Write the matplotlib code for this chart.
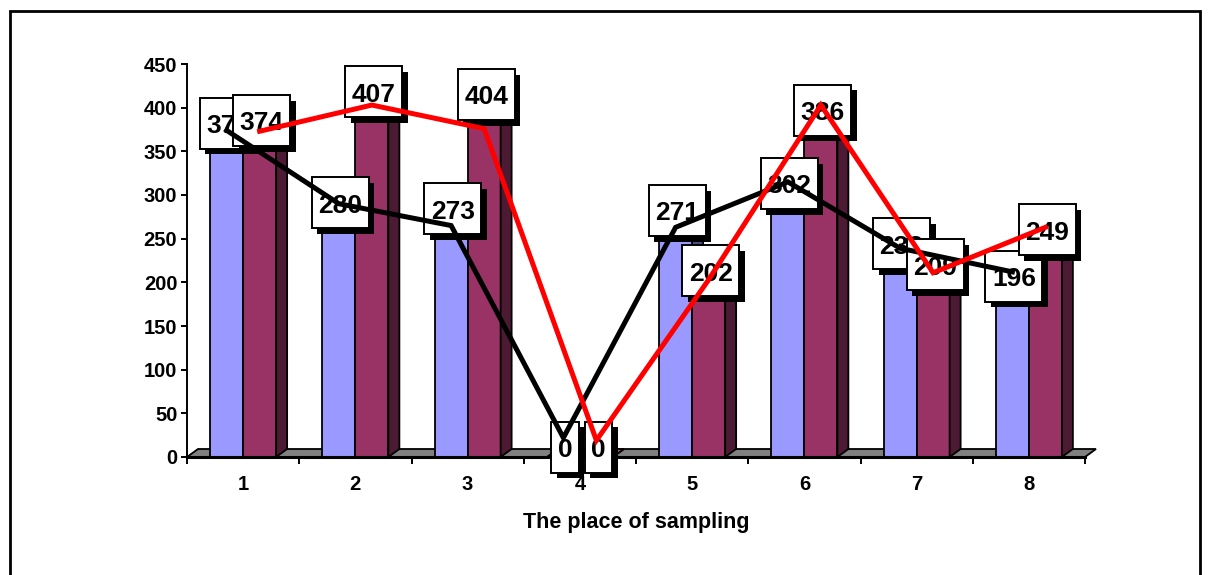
import numpy as np
import matplotlib
matplotlib.use("Agg")
import matplotlib.pyplot as plt
from matplotlib.patches import Rectangle, Polygon
from matplotlib.transforms import ScaledTranslation

plt.rcParams["font.family"] = ["Liberation Sans", "DejaVu Sans"]
plt.rcParams["font.weight"] = "bold"

# %%
## data
places = ["1", "2", "3", "4", "5", "6", "7", "8"]
series_a = [371, 280, 273, 0, 271, 302, 233, 196]
series_b = [374, 407, 404, 0, 202, 386, 209, 249]
# the two overlay lines
line_black = [374, 290, 265, 22, 263, 315, 239, 212]
line_red = [373, 403, 376, 19, 203, 403, 211, 263]

col_a = "#9999FF"
col_a_side = "#4D4D80"
col_a_top = "#B3B3FF"
col_b = "#993366"
col_b_side = "#4C1A33"
col_b_top = "#B34D80"

# %%
W, H = 1210, 575
fig = plt.figure(figsize=(W / 100, H / 100), dpi=100)
ax = fig.add_axes([187 / W, 118 / H, 898 / W, 393 / H])
ax.set_xlim(0, len(places))
ax.set_ylim(0, 450)

px_x = len(places) / 898.0
px_y = 450 / 393.0
bw = 33 * px_x
dx, dy = 11 * px_x, 8 * px_y
edge = dict(edgecolor="black", linewidth=1.3, clip_on=False)

# floor
ax.add_patch(
    Polygon(
        [(0, 0), (len(places), 0), (len(places) + dx, dy), (dx, dy)],
        facecolor="#808080", zorder=1, **edge
    )
)

# 3d-ish bars
for i, (a, b) in enumerate(zip(series_a, series_b)):
    c = i + 0.5
    ax.add_patch(Polygon([(c, 0), (c + dx, dy), (c + dx, a + dy), (c, a)],
                         facecolor=col_a_side, zorder=2, **edge))
    ax.add_patch(Rectangle((c - bw, 0), bw, a, facecolor=col_a, zorder=2, **edge))
    ax.add_patch(Polygon([(c - bw, a), (c, a), (c + dx, a + dy), (c - bw + dx, a + dy)],
                         facecolor=col_a_top, zorder=2, **edge))
    ax.add_patch(Rectangle((c, 0), bw, b, facecolor=col_b, zorder=3, **edge))
    ax.add_patch(Polygon([(c + bw, 0), (c + bw + dx, dy), (c + bw + dx, b + dy), (c + bw, b)],
                         facecolor=col_b_side, zorder=3, **edge))
    ax.add_patch(Polygon([(c, b), (c + bw, b), (c + bw + dx, b + dy), (c + dx, b + dy)],
                         facecolor=col_b_top, zorder=3, **edge))

# %%
## value labels: white box with black drop shadow
fs = 19
digit_in = 0.556 * fs / 72


def value_label(x, v, z):
    txt = str(v)
    w = len(txt) * digit_in + 0.13
    h = 0.51
    tr = fig.dpi_scale_trans + ScaledTranslation(x, v + 11, ax.transData)
    ax.add_patch(Rectangle((-w / 2 + 0.055, -h / 2 - 0.055), w, h, transform=tr,
                           facecolor="black", edgecolor="none", zorder=z, clip_on=False))
    ax.add_patch(Rectangle((-w / 2, -h / 2), w, h, transform=tr, facecolor="white",
                           edgecolor="black", linewidth=1.4, zorder=z + 0.1, clip_on=False))
    ax.annotate(txt, xy=(x, v + 11), xytext=(0, -7), textcoords="offset points",
                ha="center", va="baseline", fontsize=fs, fontweight="bold",
                zorder=z + 0.2, annotation_clip=False)


for i, v in enumerate(series_a):
    value_label(i + 0.5 - bw / 2 + 1.5 * px_x, v, 4 + i * 0.3)
for i, v in enumerate(series_b):
    value_label(i + 0.5 + bw / 2 + 2 * px_x, v, 7 + i * 0.3)

# %%
## overlay lines
xs = np.arange(len(places)) + 0.5
ax.plot(xs - bw / 2, line_black, color="black", lw=3.6, zorder=12, clip_on=False,
        solid_joinstyle="miter")
ax.plot(xs + bw / 2, line_red, color="#FF0000", lw=3.6, zorder=13, clip_on=False,
        solid_joinstyle="miter")

# %%
## axes cosmetics
for s in ["top", "right"]:
    ax.spines[s].set_visible(False)
ax.spines["left"].set_linewidth(1.4)
ax.spines["bottom"].set_linewidth(2.2)
ax.spines["bottom"].set_zorder(3.5)

ax.set_yticks(np.arange(0, 451, 50))
ax.tick_params(axis="y", direction="out", length=4, width=1.4, pad=3,
               labelsize=14.5)
ax.set_xticks(np.arange(len(places) + 1))
ax.set_xticklabels([])
ax.tick_params(axis="x", which="major", direction="out", length=5, width=1.4)
ax.set_xticks(xs, minor=True)
ax.set_xticklabels(places, minor=True)
ax.tick_params(axis="x", which="minor", length=0, pad=13, labelsize=14.5)
for lbl in ax.get_yticklabels() + ax.get_xticklabels(minor=True):
    lbl.set_fontweight("bold")
ax.set_xlabel("The place of sampling", fontsize=15.5, fontweight="bold", labelpad=13)

# chart area border
fig.add_artist(Rectangle((10 / W, -0.1), 1190 / W, 1.1 - 11 / H, transform=fig.transFigure,
                         fill=False, edgecolor="black", linewidth=2))

fig.savefig("out.png", dpi=100)
